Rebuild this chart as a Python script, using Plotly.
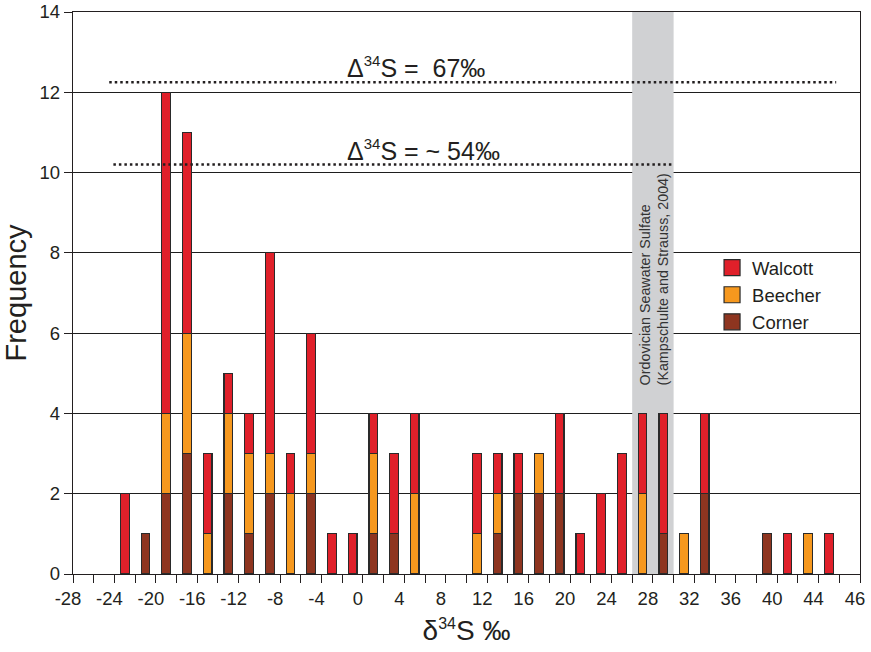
import plotly.graph_objects as go

# Histogram bins (bin centres, ‰) and counts per locality
bin_centres = [-23, -21, -19, -17, -15, -13, -11, -9, -7, -5, -3, -1, 1, 3, 5,
               11, 13, 15, 17, 19, 21, 23, 25, 27, 29, 31, 33, 39, 41, 43, 45]
corner = [0, 1, 2, 3, 0, 2, 1, 2, 0, 2, 0, 0, 1, 1, 0,
          0, 1, 2, 2, 2, 0, 0, 0, 0, 1, 0, 2, 1, 0, 0, 0]
beecher = [0, 0, 2, 3, 1, 2, 2, 1, 2, 1, 0, 0, 2, 0, 2,
           1, 1, 0, 1, 0, 0, 0, 0, 2, 0, 1, 0, 0, 0, 1, 0]
walcott = [2, 0, 8, 5, 2, 1, 1, 5, 1, 3, 1, 1, 1, 2, 2,
           2, 1, 1, 0, 2, 1, 2, 3, 2, 3, 0, 2, 0, 1, 0, 1]

# x-axis ticks and labels
x_tick_vals = list(range(-28, 49, 2))
x_tick_text = [str(v) if (v % 4 == 0 and v <= 44) else "" for v in x_tick_vals]
x_tick_text[-1] = "46"
y_tick_vals = list(range(0, 15, 2))


def sup(s, size):
    return f"<sup><span style='font-size:{size}px'>{s}</span></sup>"


# Offset reference lines (Δ34S) and the seawater sulfate band
delta_lines = [
    {"x0": -24.5, "x1": 45.7, "y": 12.25, "label": "Δ" + sup("34", 15) + "S =\u00a0 67‰", "lx": 5.1},
    {"x0": -24.1, "x1": 30.0, "y": 10.2, "label": "Δ" + sup("34", 15) + "S = ~ 54‰", "lx": 5.8},
]
band_x = [26, 30]

series = [
    ("Corner", corner, "#8E3520"),
    ("Beecher", beecher, "#F6981E"),
    ("Walcott", walcott, "#E0202A"),
]

FONT = "Liberation Sans, Arial, Helvetica, sans-serif"
INK = "#231F20"
EDGE = "#2a2a2a"

fig = go.Figure()
for name, counts, colour in series:
    fig.add_trace(go.Bar(
        x=bin_centres,
        y=[c if c else None for c in counts],
        name=name,
        width=0.84,
        showlegend=False,
        marker=dict(color=colour, line=dict(color=EDGE, width=1.2)),
    ))

# legend keys as square markers (larger than the default bar swatch)
for name, counts, colour in reversed(series):
    fig.add_trace(go.Scatter(
        x=[None], y=[None], mode="markers", name=name,
        marker=dict(symbol="square", size=16, color=colour,
                    line=dict(color=EDGE, width=1.2)),
    ))

# grey band: Ordovician seawater sulfate range
fig.add_shape(type="rect", xref="x", yref="y", x0=band_x[0], x1=band_x[1],
              y0=0, y1=14, fillcolor="#D0D1D3", line=dict(width=0), layer="between")
fig.add_annotation(
    x=28.15, y=4.66, xref="x", yref="y", xanchor="center", yanchor="bottom",
    text="Ordovician Seawater Sulfate<br>(Kampschulte and Strauss, 2004)",
    textangle=-90, align="left", showarrow=False,
    font=dict(family=FONT, size=14.3, color="#333333"),
)

for d in delta_lines:
    fig.add_shape(type="line", xref="x", yref="y", x0=d["x0"], x1=d["x1"],
                  y0=d["y"], y1=d["y"], line=dict(color=INK, width=2.6, dash="2.5px,3px"),
                  layer="above")
    fig.add_annotation(x=d["lx"], y=d["y"], xref="x", yref="y", xanchor="center",
                       yanchor="bottom", yshift=-2, text=d["label"], showarrow=False,
                       font=dict(family=FONT, size=25, color=INK))

fig.update_layout(
    width=871, height=652,
    margin=dict(l=73, r=11, t=12, b=78),
    paper_bgcolor="white", plot_bgcolor="white",
    barmode="stack",
    font=dict(family=FONT, size=18.5, color=INK),
    showlegend=True,
    legend=dict(x=0.812, y=0.578, xanchor="left", yanchor="top",
                traceorder="normal", bgcolor="rgba(0,0,0,0)",
                font=dict(family=FONT, size=18.5, color=INK),
                tracegroupgap=0, itemwidth=30),
    xaxis=dict(
        range=[-28, 48], tickmode="array", tickvals=x_tick_vals, ticktext=x_tick_text,
        ticks="outside", ticklen=8, tickwidth=1, tickcolor=INK,
        showline=True, linecolor=INK, linewidth=1.3, mirror=True,
        showgrid=False, zeroline=False, ticklabelshift=-5, automargin=False,
        title=dict(text="δ" + sup("34", 16) + "S ‰",
                   font=dict(family=FONT, size=28, color=INK), standoff=12),
    ),
    yaxis=dict(
        range=[0, 14], tickmode="array", tickvals=y_tick_vals,
        ticks="outside", ticklen=8, tickwidth=1, tickcolor=INK,
        showline=True, linecolor=INK, linewidth=1.3, mirror=True,
        showgrid=True, gridcolor="#1e1e1e", gridwidth=1.1, zeroline=False,
        automargin=False,
        title=dict(text="Frequency", font=dict(family=FONT, size=29, color=INK),
                   standoff=6),
    ),
)

fig.write_html("out.html")
